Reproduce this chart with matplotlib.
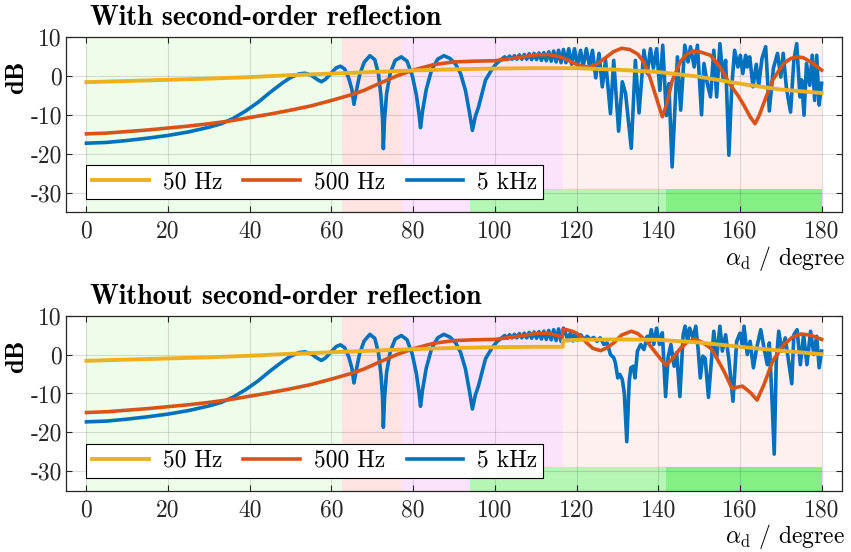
import matplotlib
matplotlib.use("Agg")
import matplotlib.pyplot as plt
from matplotlib.patches import Rectangle

plt.rcParams.update({
    "font.family": "cmr10",
    "mathtext.fontset": "cm",
    "axes.unicode_minus": False,
    "font.size": 17,
})

# ---------------------------------------------------------------- data
# 50 Hz (identical in both cases up to the image-source switch at ~116.7 deg)
x_50_common = [0, 10, 20, 30, 40, 50, 60, 70, 80, 90, 100, 110]
y_50_common = [-1.6, -1.3, -1.0, -0.7, -0.3, 0.2, 0.6, 1.0, 1.4, 1.7, 1.9, 2.0]
x_50_with = [116.6, 120, 130, 140, 150, 160, 170, 180]
y_50_with = [2.0, 2.0, 1.6, 1.0, -0.2, -2.0, -3.5, -4.4]
x_50_without = [116.6, 116.7, 120, 130, 140, 150, 160, 170, 180]
y_50_without = [2.0, 3.6, 3.8, 3.9, 3.8, 3.1, 2.0, 1.0, 0.1]

# 500 Hz
x_500_common = [0, 5, 10, 15, 20, 25, 30, 35, 40, 45, 50, 55, 60, 65, 68, 72,
                76, 80, 85, 90, 95, 100, 105, 110, 113]
y_500_common = [-14.9, -14.7, -14.3, -13.9, -13.4, -12.9, -12.3, -11.6, -10.7,
                -9.8, -8.8, -7.7, -6.3, -4.8, -3.7, -1.8, 0.0, 1.5, 2.9, 3.6,
                3.8, 3.9, 4.6, 5.4, 5.5]
x_500_with = [116, 118, 119.5, 121, 123, 125, 127, 129, 131, 133, 135, 136.5,
              138, 139.5, 141, 142, 143.4, 145.5, 147, 148.7, 150.5, 152.8,
              155, 157.7, 159.5, 161, 162.5, 163.7, 164.8, 165.8, 167, 168,
              170.7, 172.5, 174, 175.5, 177.3, 180]
y_500_with = [4.9, 4.0, 3.2, 2.6, 2.3, 3.0, 4.6, 6.2, 7.1, 6.8, 5.6, 3.5,
              -0.5, -5.5, -10.5, -7.5, -1.3, 3.8, 5.6, 6.4, 6.1, 5.3,
              2.5, -2.4, -5.0, -7.6, -10.5, -12.3, -10.0, -7.1, -3.8, -1.1,
              3.2, 4.5, 4.9, 4.7, 3.6, 1.5]
x_500_without = [116.5, 116.7, 117.5, 119, 120, 121, 122.5, 124, 125.9, 127.5,
                 129.1, 131, 133.4, 135, 137.2, 139.5, 141.9, 143.5, 145.5,
                 147.2, 148.9, 150.5, 152.8, 154, 156.1, 158.1, 159.3, 160.6,
                 162.6, 164.2, 165.9, 168, 170.8, 173, 175, 177.3, 180]
y_500_without = [4.5, 6.5, 6.4, 6.0, 5.5, 4.7, 3.0, 1.6, 1.0, 1.8,
                 3.0, 5.0, 6.0, 5.4, 3.4, 0.3, -2.8, -1.0, 1.7,
                 3.3, 4.0, 3.3, 1.7, -0.3, -4.3, -8.8, -8.4, -8.1,
                 -9.8, -11.7, -7.7, -1.7, 2.6, 4.6, 5.3, 5.0, 3.9]

# 5 kHz
x_5k_common = [0, 5, 10, 15, 20, 25, 30, 33, 36, 39, 42, 45, 48, 50, 52, 53.5,
               55, 56.5, 57.5, 58.5, 60, 61.2, 62.2, 63.2, 64.2, 65.0, 65.5,
               66.1, 66.9, 68.0, 69.4, 70.6, 71.5, 72.1, 72.5, 72.7, 73.0,
               73.5, 74.4, 75.6, 77.1, 78.5, 79.8, 80.8, 81.4, 81.8, 82.3,
               83.2, 84.5, 86.0, 87.5, 89.0, 90.4, 91.6, 92.8, 93.8, 94.5,
               95.2, 96.0, 97.0, 97.7, 99.4, 100.5, 101.8,
               102.4, 103.0, 103.6, 104.2, 104.8, 105.4, 106.0, 106.6, 107.2,
               107.8, 108.4, 109.0, 109.6, 110.2, 110.8, 111.4, 112.0, 112.6,
               113.2, 113.8, 114.4, 115.0, 115.6, 116.2, 116.8]
y_5k_common = [-17.3, -17.1, -16.6, -16.0, -15.3, -14.4, -13.2, -12.3, -10.9,
               -9.0, -6.8, -4.2, -1.8, -0.4, 0.5, 0.7, 0.2, -0.9, -1.5, -0.9,
               0.8, 2.1, 2.5, 1.8, -0.5, -3.5, -7.3, -3.8, 0.3, 3.5, 5.2, 4.2,
               0.5, -5.0, -11.0, -18.7, -11.0, -4.5, 0.8, 4.0, 4.9, 3.8, 0.0,
               -5.0, -9.5, -13.3, -9.0, -3.5, 1.5, 4.3, 5.2, 4.5, 3.0, 0.6,
               -3.7, -9.5, -14.0, -10.5, -8.0, -4.0, -1.1, 1.9, 3.3, 4.4,
               4.9, 4.2, 5.1, 4.3, 5.2, 4.3, 5.4, 4.3, 5.5, 4.3, 5.7, 4.2,
               5.8, 4.2, 5.9, 4.0, 6.0, 3.9, 6.2, 3.8, 6.4, 3.6, 6.6, 3.4, 6.8]
x_5k_with = [117.4, 118.1, 118.8, 119.5, 120.2, 121.0, 121.6, 122.4, 123.2,
             123.9, 124.7, 125.5, 126.3, 127.1, 128.3, 129.1, 130.3, 131.2,
             132.0, 133.4, 134.4, 135.3, 136.5, 137.3, 138.1, 138.8, 139.6,
             140.4, 141.1, 142.0, 142.6, 143.4, 144.7, 145.5, 146.5, 147.3,
             147.9, 148.8, 149.6, 150.6, 151.2, 152.0, 152.8, 153.6, 154.3,
             155.1, 155.9, 156.5, 157.3, 158.0, 158.7, 159.5, 160.1, 160.7,
             161.4, 161.8, 162.4, 163.2, 164.0, 164.6, 165.4, 166.3, 167.2,
             168.2, 169.2, 170.0, 170.6, 171.4, 172.4, 173.2, 173.9, 174.7,
             175.1, 175.7, 176.3, 177.1, 177.7, 178.3, 178.8, 179.4, 180.0]
y_5k_with = [3.4, 7.0, 3.0, 7.0, 2.6, 6.6, 2.3, 7.0, 2.3,
             6.6, -0.5, 5.8, -2.8, 4.0, -9.7, 4.0, -14.2, -1.5,
             -4.5, -18.6, 4.0, -9.5, 6.6, 0.6, 7.0, 2.0, 7.0,
             -3.7, 7.9, -10.2, -2.0, -23.4, 4.9, -8.8, 7.9, 3.6,
             7.5, 2.3, 7.9, -10.0, 3.2, -1.9, -5.4, 6.6, -5.4,
             8.3, -1.1, 4.0, -20.4, -2.8, 6.6, 2.3, 5.3, 0.6,
             5.3, 2.3, 4.9, -2.8, 3.0, -2.5, 4.5, 7.5, -9.0,
             2.0, 5.8, -0.3, 5.8, -3.3, -9.3, 4.0, 8.3, -5.4,
             -1.0, -10.1, 3.2, -2.4, 5.3, -6.3, 5.3, -7.5, -1.9]
x_5k_without = [117.3, 117.9, 118.5, 119.1, 119.7, 120.3, 121.0, 121.8, 122.6,
                123.4, 124.2, 125.0, 125.8, 126.7, 127.5, 128.3, 129.1, 129.5,
                130.1, 130.6, 131.2, 131.7, 132.3, 132.9, 133.3, 133.9, 134.3,
                134.9, 135.7, 136.5, 137.3, 137.7, 138.3, 138.9, 139.6, 140.3,
                141.0, 141.8, 142.4, 143.1, 143.9, 144.5, 145.3, 146.1, 146.6,
                147.2, 147.7, 148.5, 149.2, 149.8, 150.3, 150.9, 151.5, 152.3,
                153.6, 154.3, 155.1, 155.7, 156.5, 157.3, 158.3, 159.2, 160.0,
                160.6, 161.0, 161.8, 162.5, 163.3, 164.1, 165.1, 165.9, 166.7,
                167.2, 167.8, 168.4, 168.9, 169.5, 170.3, 171.1, 171.9, 172.7,
                173.2, 174.0, 174.8, 175.6, 176.4, 177.3, 178.1, 178.8, 179.4,
                180.0]
y_5k_without = [5.5, 3.6, 5.6, 3.5, 5.5, 3.7, 5.1, 3.9, 4.7,
                3.9, 4.4, 3.4, 4.3, 2.6, 3.0, 0.0, -0.8, -2.1,
                -6.0, -5.1, -6.4, -10.0, -22.4, -6.8, -3.4, -3.0, -6.0,
                0.9, 2.6, 1.3, 4.7, 3.0, 6.4, 2.6, 6.8, 2.6,
                5.6, -10.8, -0.8, 2.6, -3.0, 0.5, -10.8, 5.1, 7.3,
                3.4, 6.8, 4.3, 7.3, 1.0, -6.0, -0.4, -1.0, -11.0,
                6.0, -0.8, 7.3, 0.9, 5.1, -1.3, -12.0, 3.4, 5.5,
                2.6, 7.3, 0.0, 3.4, -3.4, 1.7, 6.4, 1.7, -2.6,
                3.0, -10.3, -25.6, -1.7, 6.0, 0.9, 4.3, -1.7, -7.5,
                5.1, 6.4, -2.6, 5.1, -2.6, 6.0, 0.0, 4.7, -3.4,
                0.9]

# Angular zones in the background and the bottom band
zone_edges = [0, 62.5, 77.2, 116.7, 180]
zone_colors = ["#eefde9", "#ffe3e3", "#fbe3fc", "#fff0f0"]
band_edges = [93.8, 141.9, 180]
band_colors = ["#b4f6b4", "#82f082"]
band_range = [-35, -29]

titles = ["With second-order reflection", "Without second-order reflection"]
labels = ["50 Hz", "500 Hz", "5 kHz"]
colors = ["#EDB120", "#D95319", "#0072BD"]
x_ticks = [0, 20, 40, 60, 80, 100, 120, 140, 160, 180]
y_ticks = [-30, -20, -10, 0, 10]

# ---------------------------------------------------------------- figure
fig = plt.figure(figsize=(8.51, 5.52), dpi=100)
ax_top = fig.add_axes([0.07756, 0.6159, 0.9119, 0.3170])
ax_bot = fig.add_axes([0.07756, 0.1111, 0.9119, 0.3170])

cases = [
    (ax_top, x_50_with, y_50_with, x_500_with, y_500_with, x_5k_with, y_5k_with),
    (ax_bot, x_50_without, y_50_without, x_500_without, y_500_without,
     x_5k_without, y_5k_without),
]

for i, (ax, x50, y50, x500, y500, x5k, y5k) in enumerate(cases):
    for left, right, c in zip(zone_edges[:-1], zone_edges[1:], zone_colors):
        ax.axvspan(left, right, color=c, lw=0, zorder=0)
    for left, right, c in zip(band_edges[:-1], band_edges[1:], band_colors):
        ax.add_patch(Rectangle((left, band_range[0]), right - left,
                               band_range[1] - band_range[0],
                               facecolor=c, lw=0, zorder=0.5))

    l5k, = ax.plot(x_5k_common + x5k, y_5k_common + y5k, color=colors[2],
                   lw=2.6, zorder=3, solid_joinstyle="round")
    l500, = ax.plot(x_500_common + x500, y_500_common + y500, color=colors[1],
                    lw=2.6, zorder=4)
    l50, = ax.plot(x_50_common + x50, y_50_common + y50, color=colors[0],
                   lw=2.8, zorder=5)

    ax.set_xlim(-5, 185)
    ax.set_ylim(-35, 10)
    ax.set_xticks(x_ticks)
    ax.set_yticks(y_ticks)
    ax.grid(True, color="#262626", alpha=0.15, lw=0.8)
    ax.tick_params(direction="in", top=True, right=True, length=4.5,
                   width=0.8, colors="#262626", labelsize=17)
    ax.tick_params(axis="x", pad=6)
    ax.tick_params(axis="y", pad=3)
    for s in ax.spines.values():
        s.set_color("#262626")
        s.set_linewidth(0.9)

    ax.text(0.031, 1.069, titles[i], transform=ax.transAxes,
            fontfamily="cmb10", fontsize=20, ha="left", va="baseline")
    ax.set_ylabel("dB", fontfamily="cmb10", fontsize=19)
    ax.yaxis.set_label_coords(-0.063, 0.77)
    ax.yaxis.label.set_verticalalignment("center")
    ax.set_xlabel(r"$\alpha_{\mathrm{d}}$ / degree", fontsize=17)
    ax.xaxis.set_label_coords(1.004, -0.263)
    ax.xaxis.label.set_horizontalalignment("right")
    ax.xaxis.label.set_verticalalignment("center")

    leg = ax.legend([l50, l500, l5k], labels, ncol=3, loc="lower left",
                    bbox_to_anchor=(0.0258, 0.074), borderaxespad=0,
                    fancybox=False, framealpha=1, edgecolor="#000000",
                    handlelength=2.4, handletextpad=0.6, columnspacing=0.9,
                    fontsize=17, borderpad=0.25)
    leg.get_frame().set_linewidth(0.8)
    leg.set_zorder(10)

fig.savefig("out.png", dpi=100)
